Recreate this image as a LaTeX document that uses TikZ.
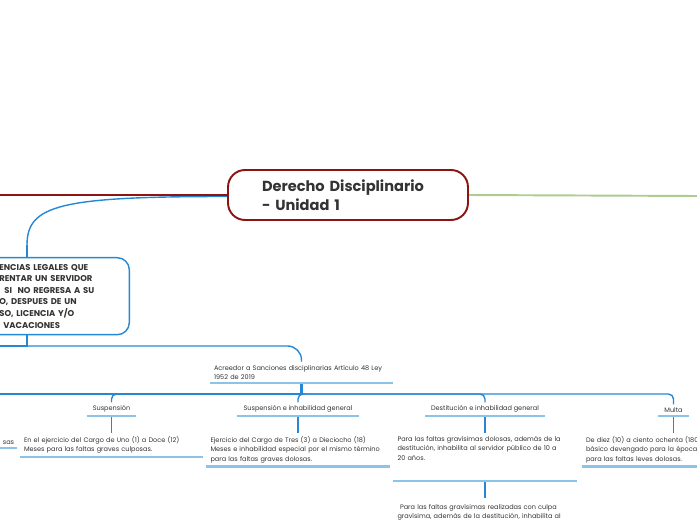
\documentclass[tikz,border=0pt]{standalone}
\usepackage{fontspec}
\setmainfont{Poppins}
\usepackage{tikz}
\usetikzlibrary{positioning, calc}
\definecolor{rootred}{RGB}{139,20,20}
\definecolor{mmblue}{RGB}{38,136,212}
\definecolor{mmlight}{RGB}{140,196,232}
\definecolor{mmgreen}{RGB}{172,204,146}
\definecolor{inkgray}{RGB}{51,51,51}
\tikzstyle{redline} = [rootred, line width=1pt]
\tikzstyle{greenline} = [mmgreen, line width=1.1pt]
\tikzstyle{blueline} = [mmblue, line width=0.8pt]
\tikzstyle{uline} = [mmlight, line width=1.3pt]
\newcommand{\bodyfont}{\fontsize{3.72}{5.4}\selectfont\hyphenpenalty=10000}

\begin{document}
\begin{tikzpicture}[x=0.02cm, y=-0.02cm,
    root/.style={draw=rootred, line width=1.1pt, rounded corners=0.34cm, fill=white, minimum width=4.8cm, minimum height=1cm, text width=3.44cm, inner xsep=0.68cm, align=left, font=\bfseries\fontsize{8.3}{10.8}\selectfont, text=inkgray},
    legalbox/.style={draw=mmblue, line width=0.8pt, rounded corners=0.24cm, fill=white, minimum height=1.54cm, text width=2.36cm, inner xsep=0.24cm, align=left, font=\bfseries\fontsize{4.8}{6.6}\selectfont, text=inkgray},
    topic/.style={inner xsep=0.05cm, inner ysep=0.06cm, font=\bodyfont, text=inkgray},
    leaf/.style={text width=3.5cm, inner xsep=0.08cm, inner ysep=0.06cm, align=left, font=\bodyfont, text=inkgray},
    node distance=0.34cm
  ]
    \useasboundingbox (0,0) rectangle (697,520);

    % Central topic
    \coordinate (leftend) at (0,195);
    \coordinate (rightend) at (697,196);
    \coordinate (stem) at (27,245);
    \draw[blueline] ($(0,1.5)+(228,195)$) .. controls (60,196.5) and (27,205) .. (stem);
    \draw[redline] (228,195) -- (leftend);
    \draw[greenline] (468,195) -- (rightend);
    \node[root] (root) at (348,195) {Derecho Disciplinario\\- Unidad 1};

    % Legal situations box
    \node[legalbox, anchor=north east] (legal) at (130,257) {ENCIAS LEGALES QUE\\RENTAR UN SERVIDOR\\\hspace*{0.1cm}SI~~NO REGRESA A SU\\O, DESPUES DE UN\\SO, LICENCIA Y/O\\\hspace*{0.08cm}VACACIONES};
    \draw[blueline] (stem) -- (stem |- legal.north);

    % Sanctions
    \node[leaf, anchor=south] (acreedor) at (301.5,383) {Acreedor a Sanciones disciplinarias Artículo 48 Ley\\1952 de 2019};
    \coordinate (fork) at (27,346);
    \coordinate (offleft) at (0,346);
    \draw[blueline] (stem |- legal.south) -- (fork) -- (offleft);
    \draw[blueline, rounded corners=0.28cm] (fork) -| (acreedor.north);

    \node[topic, anchor=south, minimum width=0.98cm] (susp) at (111.5,416) {Suspensión};
    \node[topic, anchor=south, minimum width=2.44cm] (suspinh) at (298,416) {Suspensión e inhabilidad general};
    \node[topic, anchor=south, minimum width=2.4cm] (destit) at (485,416) {Destitución e inhabilidad general};
    \node[topic, anchor=south, minimum width=0.6cm] (multa) at (673.5,416) {Multa};
    \node[topic, anchor=south east] (sastail) at (17,448) {sas};

    \coordinate (bus) at (301.5,394);
    \coordinate (offbus) at (0,394);
    \draw[blueline, line width=1.3pt] (acreedor.south) -- (bus);
    \draw[blueline] (bus) -- (offbus);
    \foreach \t in {susp, suspinh, destit, multa}
      \draw[blueline, rounded corners=0.1cm] (bus) -| (\t.north);

    % Leaves
    \node[leaf, below=of susp] (suspc) {En el ejercicio del Cargo de Uno (1) a Doce (12)\\Meses para las faltas graves culposas.};
    \node[leaf, below=of suspinh] (suspinhc) {Ejercicio del Cargo de Tres (3) a Dieciocho (18)\\Meses e inhabilidad especial por el mismo término\\para las faltas graves dolosas.};
    \node[leaf, below=of destit] (destc) {Para las faltas gravísimas dolosas, además de la\\destitución, inhabilita al servidor público de 10 a\\20 años.\\[4.3pt]\mbox{}};
    \node[leaf, below=of multa] (multac) {De diez (10) a ciento ochenta (180\\básico devengado para la época\\para las faltas leves dolosas.};
    \node[leaf, below=of destc, inner ysep=0.12cm] (gravc) {\hspace*{0.05cm}Para las faltas gravísimas realizadas con culpa\\gravísima, además de la destitución, inhabilita al};

    \foreach \a/\b in {susp/suspc, suspinh/suspinhc, destit/destc, multa/multac, destc/gravc}
      \draw[blueline] (\a.south) -- (\b.north);

    \foreach \n in {acreedor, susp, suspinh, destit, multa, sastail, suspc, suspinhc, destc, multac}
      \draw[uline] (\n.south west) -- (\n.south east);
\end{tikzpicture}
\end{document}
